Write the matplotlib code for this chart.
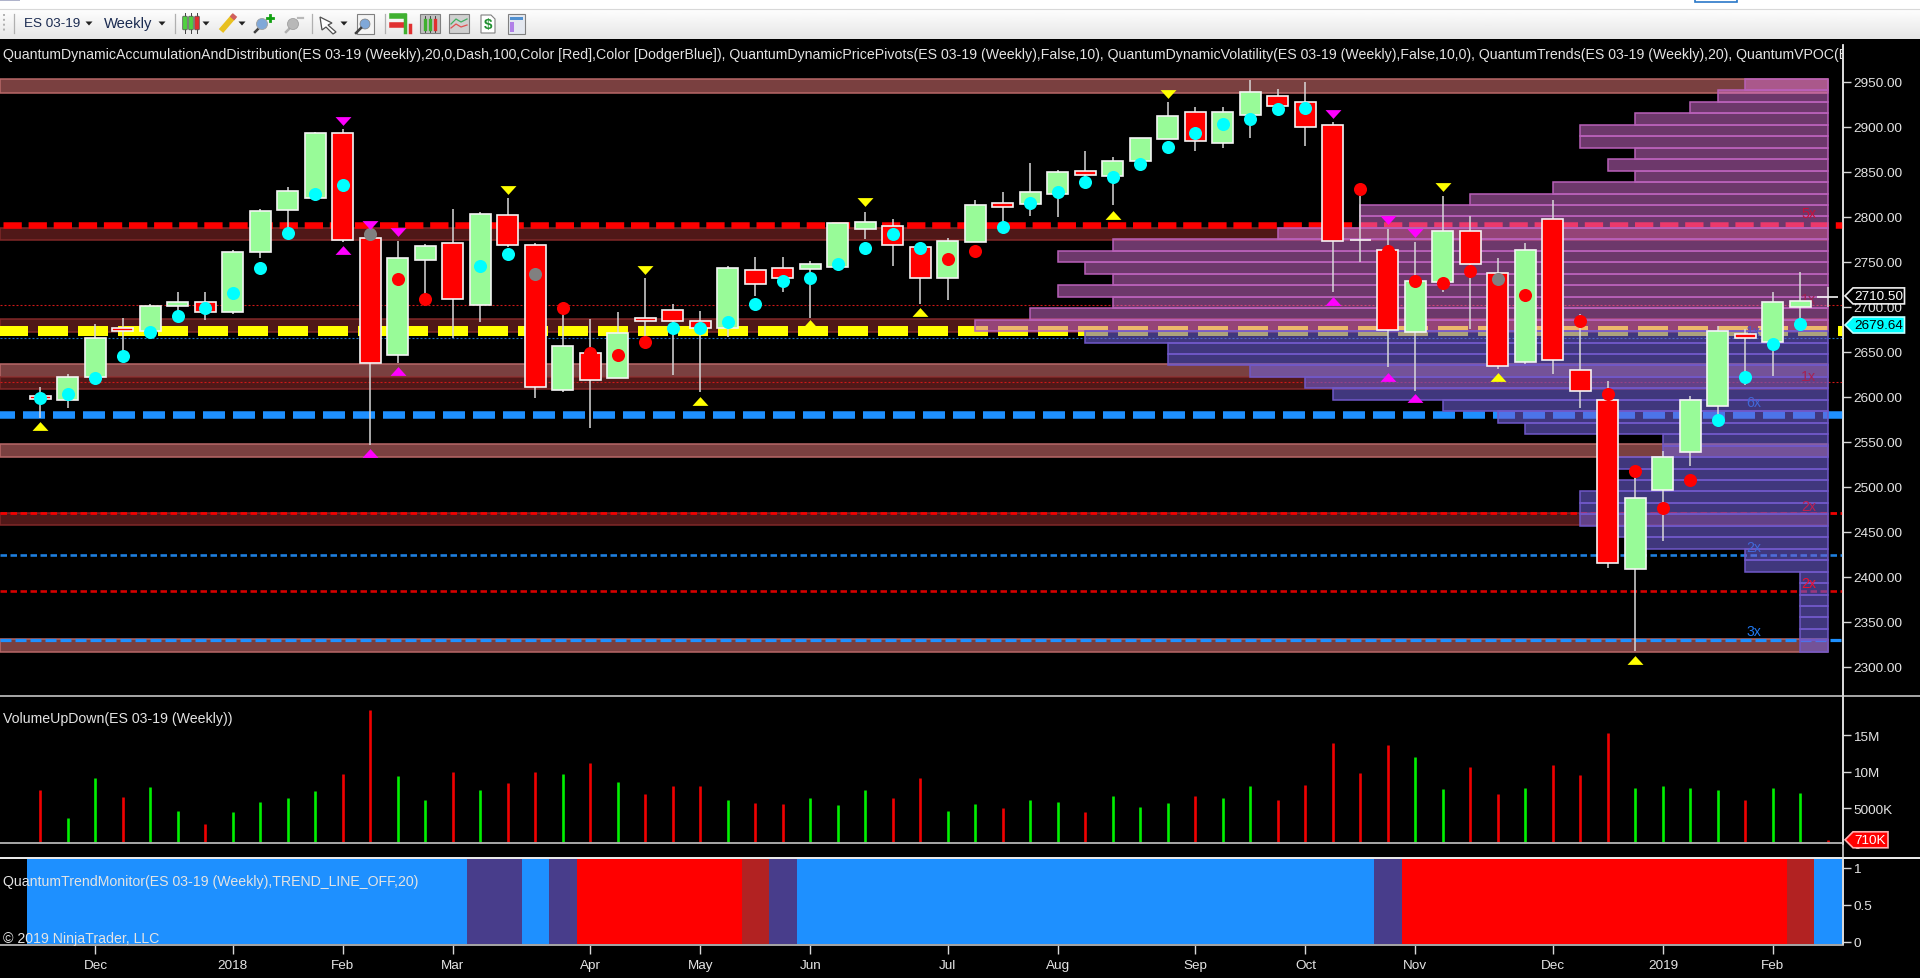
import numpy as np
import matplotlib
matplotlib.use("Agg")
import matplotlib.pyplot as plt
from matplotlib.colors import to_rgba
from matplotlib.patches import Polygon, Rectangle, FancyBboxPatch

plt.rcParams['font.family'] = ['Liberation Sans', 'DejaVu Sans']

W, H = 1920, 979

# weekly candles, index 0 = mid Nov 2017
candle_open = [2601, 2596.3, 2621.5, 2676, 2672.6, 2700.7, 2705.2, 2693.7, 2760.4, 2807.4, 2821.1,
               2892.6, 2775.9, 2646.7, 2751.9, 2770.4, 2701.9, 2802.2, 2768.9, 2607.4, 2648.5, 2620.4,
               2687, 2696.7, 2684.4, 2675.9, 2741.1, 2742.6, 2741.9, 2743.7, 2786.7, 2790, 2766,
               2731.5, 2771.5, 2814.8, 2814.4, 2825.6, 2850.7, 2845.2, 2861.5, 2886.7, 2916, 2882.2,
               2913, 2934.4, 2927.4, 2902.2, 2774, 2763.3, 2671.5, 2727, 2784, 2738, 2638.2, 2798,
               2630, 2596.7, 2408.9, 2496.7, 2538.2, 2589.7, 2669.6, 2660.4, 2699.3, 2710.5]
candle_close = [2598, 2621.5, 2665, 2672.6, 2701.1, 2705.6, 2693.7, 2760.7, 2806.7, 2828.9, 2892.6,
                2774.4, 2637, 2753.7, 2767.8, 2708.9, 2802.6, 2768.5, 2610.4, 2656.7, 2618.9, 2670.4,
                2683.7, 2683.7, 2675.9, 2742.6, 2725.2, 2731.5, 2747, 2793, 2794.1, 2768.5, 2731.5,
                2773.3, 2813.3, 2810.4, 2827.4, 2849.6, 2846.7, 2862.2, 2887, 2912.2, 2883.7, 2916,
                2938.1, 2922.6, 2899.3, 2773, 2774, 2674.4, 2728.9, 2784, 2748, 2634.5, 2763.3, 2641.1,
                2606, 2414.8, 2487, 2533, 2596.7, 2673.3, 2664.8, 2704.8, 2705.9, 2710.5]
candle_high = [2611, 2625.2, 2680.7, 2687.4, 2702.5, 2716.7, 2716.7, 2762.5, 2808.5, 2833.3, 2894.4,
               2897.4, 2785, 2773.3, 2769.6, 2808.5, 2804.8, 2820.7, 2770.7, 2698.5, 2686, 2694.4,
               2731.9, 2703, 2695.6, 2745.6, 2755.6, 2755.6, 2751, 2793, 2805.6, 2797.4, 2766,
               2776, 2818.5, 2827.8, 2859.6, 2851.5, 2873.3, 2866.7, 2887, 2927.8, 2922.2, 2922.2,
               2952.2, 2941.9, 2949.6, 2905.5, 2823.3, 2786, 2771.5, 2823.3, 2801, 2753.7, 2770.4, 2818.9,
               2691.9, 2617.8, 2517.8, 2540, 2601.1, 2679, 2675, 2716.7, 2738.9, 2721.5]
candle_low = [2576.3, 2587.4, 2621.5, 2648, 2670, 2690, 2685.2, 2692, 2754.4, 2782.6, 2821.1,
              2772.2, 2546.3, 2638, 2701, 2665, 2682.6, 2766, 2598.5, 2604.8, 2565.6, 2620.4,
              2665, 2624, 2604.8, 2666, 2712.2, 2716.7, 2688, 2743.7, 2775, 2744.8, 2703,
              2707, 2771.5, 2795, 2801, 2800, 2840, 2813, 2861.5, 2886.7, 2873.3, 2876.3,
              2887.8, 2918, 2878.1, 2716.7, 2750, 2632.6, 2606.7, 2716.7, 2675, 2630.8, 2636, 2625.6,
              2587.4, 2410, 2317.4, 2439.3, 2523.4, 2575, 2613, 2622.6, 2685, 2700]

# dots on each bar, c = cyan, r = red, g = gray, - = none
dot_price = [2598.6, 2603, 2620.8, 2644.8, 2671.5, 2689.3, 2698.9, 2715.6, 2743.3, 2782.2, 2825.2,
             2834.8, 2780.4, 2730.7, 2708.9, np.nan, 2745.6, 2758.5, 2736.3, 2698.5, 2648.5, 2646.3,
             2660.4, 2676, 2676.3, 2683.3, 2703, 2729, 2731.9, 2747.4, 2765, 2780.7, 2765,
             2753, 2762.2, 2788.9, 2815, 2827, 2838.9, 2844.4, 2858.5, 2878, 2893.3, 2903,
             2908.5, 2919.6, 2921.1, np.nan, 2830.7, 2762.2, 2728.9, 2726.3, 2740, 2730.7, 2713, np.nan,
             2683.7, 2603, 2517.8, 2476.3, 2507, 2574.1, 2622.2, 2658.5, 2680.7, np.nan]
dot_kind = list("cccccccccccc" "g" "rr" "-" "cc" "g" "rrrr" "cccccccccc" "rr"
                "cccccccccccc" "-" "rrrrr" "g" "r" "-" "rrrrr" "cccc" "-")

tri_up_yellow_x = [0, 24, 28, 32, 39, 53, 58]
tri_up_yellow_y = [2567.8, 2595, 2680.7, 2693.7, 2801.9, 2621.5, 2307.8]
tri_dn_yellow_x = [17, 22, 30, 41, 51]
tri_dn_yellow_y = [2830, 2740.7, 2815.9, 2936, 2832.6]
tri_up_magenta_x = [11, 12, 13, 47, 49, 50]
tri_up_magenta_y = [2763.3, 2537, 2628.9, 2705.9, 2621.5, 2598.2]
tri_dn_magenta_x = [11, 12, 13, 47, 49, 50]
tri_dn_magenta_y = [2905.9, 2791, 2782.6, 2914, 2796.3, 2781.5]

# accumulation / distribution zones (top, bottom)
zones_light = [(2953, 2937.4), (2636.3, 2621.5), (2547.4, 2533.4), (2330.8, 2316.7)]
zones_dark = [(2787.4, 2774.4), (2686.3, 2672.2), (2621.5, 2608.5), (2470.8, 2457.4)]

# horizontal levels
level_red_main = 2790.7
level_yellow = 2673.3
level_blue_main = 2580
level_red_thin = [2702.2, 2616.3]
level_blue_dot = 2664.8
level_red_1 = 2470.8
level_blue_1 = 2424.5
level_red_2 = 2384.1
level_blue_2 = 2330

# volume profile, number of week-widths per row, top row first
vp_top = 2953
vp_step = 12.73
vp_counts = [3, 4, 5, 7, 9, 9, 7, 8, 7, 10, 13, 17, 17, 20, 26, 28, 27, 26, 28, 26, 29, 31,
             27, 24, 24, 21, 19, 18, 14, 12, 11, 6, 6, 8, 7, 8, 9, 9, 9, 8, 7, 3, 3, 1, 1, 1, 1, 1, 1, 1]

volume = [7.45, 3.7, 9.1, 6.6, 7.95, 4.7, 2.9, 4.5, 5.9, 6.4, 7.3, 9.7, 18.35, 9.35, 6.2, 10.0, 7.45,
          8.45, 10.0, 9.7, 11.2, 8.6, 6.9, 8.1, 8.1, 6.1, 5.7, 5.55, 6.4, 5.4, 7.45, 6.4, 9.1, 4.7,
          5.55, 5.05, 6.2, 5.9, 4.55, 6.75, 5.2, 5.7, 6.75, 6.4, 8.1, 6.2, 8.25, 13.9, 9.8, 13.6, 12.0,
          7.6, 10.7, 6.9, 7.75, 10.85, 9.5, 15.25, 7.75, 8.1, 7.75, 7.45, 6.2, 7.75, 7.1, 0.71]
# per bar colour
volume_dir = list("rggrggrggggrrggrgrrgrgrrrgrrgggrrg"
                  "grggrgggrggrrrrrggrrgrrrggggrggr")

# trend monitor state per week: b blue, p purple, r red, f firebrick
trend_state = list("bbbbbbbbbbbbbbbb" "pp" "b" "p" "rrrrrr" "f" "p"
                   "bbbbbbbbbbbbbbbbbbbbb" "p" "rrrrrrrrrrrrrr" "f" "b")

month_ticks = [2, 7, 11, 15, 20, 24, 28, 33, 37, 42, 46, 50, 55, 59, 63]
month_labels = ["Dec", "2018", "Feb", "Mar", "Apr", "May", "Jun", "Jul", "Aug", "Sep", "Oct", "Nov", "Dec", "2019", "Feb"]
price_ticks = [2300, 2350, 2400, 2450, 2500, 2550, 2600, 2650, 2700, 2750, 2800, 2850, 2900, 2950]
volume_ticks = [5, 10, 15]
volume_tick_labels = ["5000K", "10M", "15M"]
trend_ticks = [0, 0.5, 1]
trend_tick_labels = ["0", "0.5", "1"]

multiples = [("5x", 64.3, 2803.6, '#c8103a'), ("1x", 64.3, 2709, '#a02050'), ("1x", 62.3, 2673, '#5058c0'),
             ("1x", 64.3, 2622.6, '#a82050'), ("6x", 62.3, 2593.7, '#4068d8'), ("2x", 64.3, 2478.6, '#c02050'),
             ("2x", 62.3, 2433, '#4068d8'), ("2x", 64.3, 2393, '#f01030'), ("3x", 62.3, 2339.7, '#2078f0')]

header = ("QuantumDynamicAccumulationAndDistribution(ES 03-19 (Weekly),20,0,Dash,100,Color [Red],Color [DodgerBlue]), "
          "QuantumDynamicPricePivots(ES 03-19 (Weekly),False,10), QuantumDynamicVolatility(ES 03-19 (Weekly),False,10,0), "
          "QuantumTrends(ES 03-19 (Weekly),20), QuantumVPOC(ES 03-19")

TXT = '#e4e4e4'
FS = 10.15
FS_TICK = 9.7
AXIS_R = 1843
BAR0, BARW = 40.4, 27.5


def px_axes(x0, y0, x1, y1):
    # axes from pixel box, y measured from the top of the picture
    return fig.add_axes([x0 / W, 1 - y1 / H, (x1 - x0) / W, (y1 - y0) / H], facecolor='black')


def hline(ax, y, px, on, off, color, phase=0, alpha=1.0):
    ax.axhline(y, color=color, lw=px * 0.72, alpha=alpha, dash_capstyle='butt',
               linestyle=(phase / px, (on / px, off / px)), zorder=3)


fig = plt.figure(figsize=(W / 100, H / 100), dpi=100, facecolor='black')

xlim = ((0 - BAR0) / BARW, (AXIS_R - BAR0) / BARW)

# price panel
ax = px_axes(0, 46, AXIS_R, 696)
ax.set_xlim(*xlim)
ax.set_ylim(2950 - (696 - 82.7) / 0.9, 2950 + (82.7 - 46) / 0.9)

for top_p, bot_p in zones_light:
    ax.fill_between([xlim[0], 65], bot_p, top_p, facecolor='#7a4040', edgecolor='#b86868', lw=1.1, zorder=1)
for top_p, bot_p in zones_dark:
    ax.fill_between([xlim[0], 65], bot_p, top_p, facecolor='#501818', edgecolor='#802828', lw=1.1, zorder=1)

hline(ax, level_red_main, 6.5, 18.3, 6.8, '#ff0000', phase=-3)
hline(ax, level_yellow, 10, 30, 10, '#ffff00', phase=2)
hline(ax, level_blue_main, 7.5, 22, 8, '#1e90ff', phase=7)
for lvl in level_red_thin:
    hline(ax, lvl, 1.1, 2, 2, '#d01818')
hline(ax, level_blue_dot, 1.1, 2, 2, '#1e70c8')
hline(ax, level_red_1, 2.8, 6.5, 3.5, '#f00000')
hline(ax, level_blue_1, 2.6, 6.5, 3.5, '#1e80e0')
hline(ax, level_red_2, 2.6, 6.5, 3.5, '#d80000')
hline(ax, level_blue_2, 3.2, 11, 4, '#1e90ff')

# volume profile
vp_y = vp_top - vp_step * (np.arange(len(vp_counts)) + 0.5)
for row, (yc, n) in enumerate(zip(vp_y, vp_counts)):
    upper = row < 22
    face = to_rgba('#da70d6', 0.5) if upper else to_rgba('#7060d8', 0.58)
    edge = '#b860b8' if upper else '#7058c8'
    ax.barh(yc, n, left=65 - n, height=vp_step, color=[face], edgecolor=edge, lw=1.1, zorder=4)

for label, xv, yv, col in multiples:
    ax.text(xv, yv, label, color=col, fontsize=FS, ha='center', va='center', zorder=5)

# candles
idx = np.arange(len(candle_open))
o, c, hi, lo = map(np.array, (candle_open, candle_close, candle_high, candle_low))
ax.vlines(idx, lo, hi, color='#d8d8d8', lw=1.1, zorder=6)
body_col = ['#98fb98' if b >= a else '#ff0000' for a, b in zip(o, c)]
ax.bar(idx, np.abs(c - o), bottom=np.minimum(o, c), width=0.76, color=body_col, edgecolor='#f4f4f4', lw=1.2, zorder=7)

# dots
dot_colors = {'c': '#00ffff', 'r': '#ff0000', 'g': '#808080'}
for key, col in dot_colors.items():
    pick = [i for i in idx if dot_kind[i] == key]
    ax.plot(pick, [dot_price[i] for i in pick], ls='', marker='o', ms=9.4, mfc=col, mec='none', zorder=8)

up_tri = [(-1, -0.55), (1, -0.55), (0, 0.55)]
dn_tri = [(-1, 0.55), (1, 0.55), (0, -0.55)]
ax.plot(tri_up_yellow_x, tri_up_yellow_y, ls='', marker=up_tri, ms=11.5, mfc='#ffff00', mec='none', zorder=8)
ax.plot(tri_dn_yellow_x, tri_dn_yellow_y, ls='', marker=dn_tri, ms=11.5, mfc='#ffff00', mec='none', zorder=8)
ax.plot(tri_up_magenta_x, tri_up_magenta_y, ls='', marker=up_tri, ms=11.5, mfc='#ff00ff', mec='none', zorder=8)
ax.plot(tri_dn_magenta_x, tri_dn_magenta_y, ls='', marker=dn_tri, ms=11.5, mfc='#ff00ff', mec='none', zorder=8)

# volume panel
ax_vol = px_axes(0, 698, AXIS_R, 844.5)
ax_vol.set_xlim(*xlim)
ax_vol.set_ylim((846 - 844.5) / 7.33, (846 - 698) / 7.33)
vol_col = ['#00f000' if s == 'g' else '#f00000' for s in volume_dir]
ax_vol.vlines(idx, 0, volume, color=vol_col, lw=1.9, zorder=3)

# trend monitor
ax_tr = px_axes(0, 860, AXIS_R, 945)
ax_tr.set_xlim(*xlim)
ax_tr.set_ylim((945 - 943) / -74, (943 - 860) / 74)
state_col = {'b': '#1e90ff', 'p': '#483d8b', 'r': '#ff0000', 'f': '#b22222'}
ax_tr.bar(idx, 2, bottom=-0.5, width=1.0, color=[state_col[s] for s in trend_state], lw=0)

# axes dressing
for a, ticks, labels in [(ax, price_ticks, [f"{t:.2f}" for t in price_ticks]),
                         (ax_vol, volume_ticks, volume_tick_labels),
                         (ax_tr, trend_ticks, trend_tick_labels)]:
    for s in ('top', 'left', 'bottom'):
        a.spines[s].set_visible(False)
    a.spines['right'].set_color('#e6e6e6')
    a.spines['right'].set_linewidth(1.1)
    a.yaxis.tick_right()
    a.set_yticks(ticks)
    a.set_yticklabels(labels)
    a.tick_params(axis='y', length=5.8, width=1, color='#d8d8d8', labelcolor=TXT, labelsize=FS_TICK, pad=1.5)
    a.set_xticks([])

ax_tr.set_xticks(month_ticks)
ax_tr.set_xticklabels(month_labels)
ax_tr.tick_params(axis='x', length=7, width=1, color='#d8d8d8', labelcolor=TXT, labelsize=FS_TICK, pad=3.5)

# chrome drawn in picture pixels over everything
top = fig.add_axes([0, 0, 1, 1], facecolor='none', zorder=20)
top.set_xlim(0, W)
top.set_ylim(H, 0)
top.axis('off')

head = top.text(3, 55.5, header, color=TXT, fontsize=FS, va='center', ha='left')
head.set_clip_on(True)
head.set_clip_path(Rectangle((0, 40), AXIS_R, 40, transform=top.transData))
top.text(3, 719, "VolumeUpDown(ES 03-19 (Weekly))", color=TXT, fontsize=FS, va='center')
top.text(3, 881.7, "QuantumTrendMonitor(ES 03-19 (Weekly),TREND_LINE_OFF,20)", color=TXT, fontsize=FS, va='center')
top.text(3, 939, "© 2019 NinjaTrader, LLC", color=TXT, fontsize=FS, va='center')
top.text(1853, 846, "0", color=TXT, fontsize=FS_TICK, va='center')

# panel separators
top.plot([0, W], [697, 697], color='#a8a8a8', lw=1.4)
top.plot([0, AXIS_R], [844, 844], color='#a8a8a8', lw=1.4)
top.plot([0, W], [859, 859], color='#f0f0f0', lw=1.4)
top.plot([0, AXIS_R], [945.5, 945.5], color='#a8a8a8', lw=1.4)
top.plot([AXIS_R, AXIS_R], [46, 945], color='#e6e6e6', lw=1.1)


def flag(a, value, text, face, edge, tcol, x1, half):
    # price marker on the axis, pointing left
    yp = H - a.transData.transform((0, value))[1]
    x0 = AXIS_R + 2
    pts = [(x0, yp), (x0 + 8, yp - half), (x1, yp - half), (x1, yp + half), (x0 + 8, yp + half)]
    top.add_patch(Polygon(pts, closed=True, facecolor=face, edgecolor=edge, lw=1.2, zorder=5))
    top.text((x0 + 8 + x1) / 2, yp, text, color=tcol, fontsize=FS_TICK, ha='center', va='center', zorder=6)


flag(ax, 2710.5 + 1.5, "2710.50", 'black', '#f0f0f0', 'white', 1904.5, 8)
flag(ax, 2679.64, "2679.64", '#00ffff', '#c0ffff', 'black', 1904.5, 8)
flag(ax_vol, 0.71, "710K", '#ff0000', '#ffb0b0', 'white', 1888, 8)

# toolbar
grad = np.linspace(1.0, 0.9, 32).reshape(-1, 1)
top.imshow(grad, extent=(0, W, 40, 9), cmap='gray', vmin=0, vmax=1, aspect='auto', zorder=1)
top.add_patch(Rectangle((0, 0), W, 9.5, facecolor='white', edgecolor='none', zorder=1))
top.plot([0, W], [9.5, 9.5], color='#d8d8d8', lw=0.8, zorder=2)
top.add_patch(Rectangle((0, 0), 20, 2, facecolor='#b0b4cc', edgecolor='none', zorder=2))
top.add_patch(Rectangle((1695, -1), 42, 4, facecolor='white', edgecolor='#2a78c8', lw=1.2, zorder=2))
top.set_xlim(0, W)
top.set_ylim(H, 0)

NAVY = '#1a2a50'
top.text(24, 24, "ES 03-19", color=NAVY, fontsize=9.7, va='center', zorder=3)
top.text(104, 24, "Weekly", color=NAVY, fontsize=10.6, va='center', zorder=3)
for arrow_x in (89, 162, 206, 242, 344):
    top.add_patch(Polygon([(arrow_x - 3.5, 22.5), (arrow_x + 3.5, 22.5), (arrow_x, 26.5)], facecolor='#202020', edgecolor='none', zorder=3))
for sx in (14, 175, 312, 385):
    top.plot([sx, sx], [15, 34], color='#b0b0b0', lw=0.9, zorder=3)
top.plot([4, 4], [15, 33], color='#b0b0b0', lw=1.4, ls=(0, (1, 1.5)), zorder=3)


def capsule(x, col):
    top.plot([x, x], [14, 34], color='#404040', lw=0.7, zorder=3)
    top.add_patch(FancyBboxPatch((x - 1.5, 18), 3, 12, boxstyle="round,pad=0.8", facecolor=col, edgecolor='#505050', lw=0.5, zorder=4))


for x, col in [(185, '#50d040'), (191, '#50d040'), (197, '#e03030')]:
    capsule(x, col)
# pencil
top.plot([221, 234], [32, 17], color='#e8c020', lw=4.2, solid_capstyle='butt', zorder=3)
top.plot([232, 235], [19.5, 16], color='#d06060', lw=4.2, solid_capstyle='butt', zorder=4)
# magnifiers
for cx, col, hcol in [(262, '#80a8d8', '#404040'), (293, '#b8b8b8', '#b0b0b0')]:
    top.plot([cx - 7, cx - 2], [33, 28], color=hcol, lw=1.8, zorder=3)
    top.add_patch(plt.Circle((cx, 25), 5.5, facecolor=col, edgecolor='#a0a0a0', lw=0.6, zorder=4))
top.plot([267, 273], [19, 19], color='#10a010', lw=2, zorder=4)
top.plot([270, 270], [16, 22], color='#10a010', lw=2, zorder=4)
top.plot([298, 303], [19, 19], color='#b8b8b8', lw=1.6, zorder=4)
# cursor
top.add_patch(Polygon([(320, 18), (332, 24), (328, 26), (336, 33), (333, 35), (326, 28), (322, 31)], facecolor='white', edgecolor='#505050', lw=0.9, zorder=3))
# zoom page
top.add_patch(Rectangle((357, 15), 17, 20, facecolor='#f4f4f4', edgecolor='#808080', lw=0.8, zorder=3))
top.add_patch(plt.Circle((365, 25), 5, facecolor='#80a8d8', edgecolor='#808080', lw=0.5, zorder=4))
top.plot([356, 361], [34, 29], color='#404040', lw=1.8, zorder=4)
# bar layout icon
top.plot([392, 404], [17, 17], color='#40b030', lw=4, zorder=3)
top.plot([392, 404], [26, 26], color='#e03030', lw=4, zorder=3)
top.plot([405, 405], [16, 33], color='#40b030', lw=2.5, zorder=3)
top.plot([410, 410], [26, 33], color='#e03030', lw=2.5, zorder=3)
# boxed icons
for bx, col in [(420, '#c0c0c0'), (449, '#d0d0d0')]:
    top.add_patch(Rectangle((bx, 15), 20, 19, facecolor=col, edgecolor='#808080', lw=0.8, zorder=3))
for x, col in [(425, '#40b030'), (430, '#40b030'), (435, '#e03030')]:
    top.plot([x, x], [17, 33], color='#303030', lw=0.6, zorder=4)
    top.plot([x, x], [21, 30], color=col, lw=2.4, zorder=4)
top.plot([451, 456, 461, 467], [25, 20, 23, 20], color='#40b060', lw=0.9, zorder=4)
top.plot([451, 456, 461, 467], [29, 25, 28, 26], color='#e05050', lw=0.9, zorder=4)
top.add_patch(Polygon([(481, 16), (491, 16), (495, 20), (495, 34), (481, 34)], facecolor='white', edgecolor='#808080', lw=0.8, zorder=3))
top.text(488, 25.5, "$", color='#209030', fontsize=11, fontweight='bold', ha='center', va='center', parse_math=False, zorder=4)
top.add_patch(Rectangle((508, 15), 17, 20, facecolor='#e4e8f0', edgecolor='#808080', lw=0.8, zorder=3))
top.add_patch(Rectangle((510, 18), 13, 3, facecolor='#5090d0', edgecolor='none', zorder=4))
top.add_patch(Rectangle((510, 23), 4, 10, facecolor='#b080e8', edgecolor='none', zorder=4))

fig.savefig("out.png", dpi=100, facecolor='black')
